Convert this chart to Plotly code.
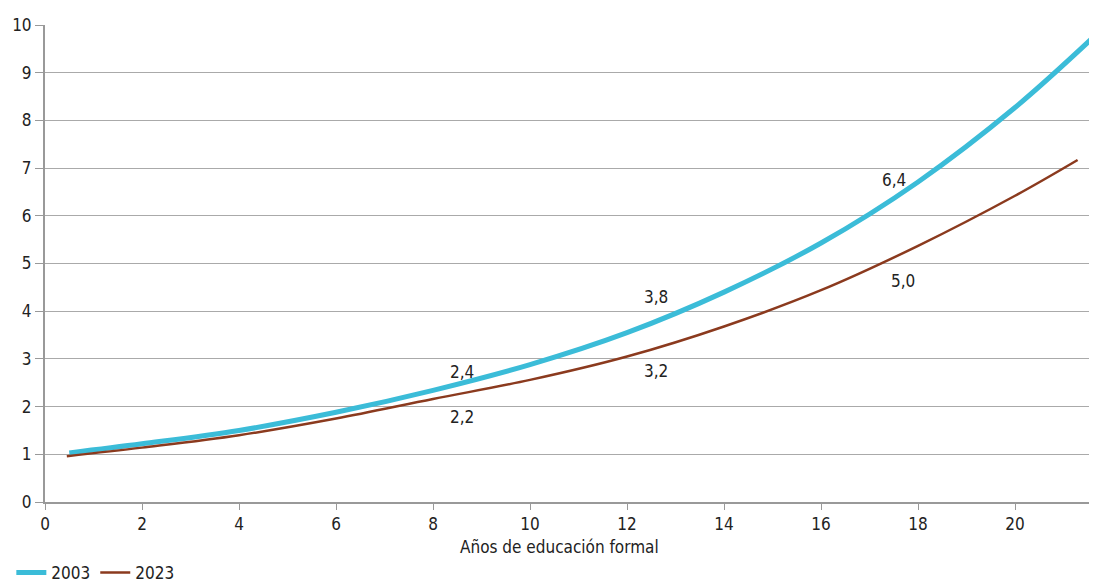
import plotly.graph_objects as go

x_2003 = [0.5, 2, 4, 6, 8, 10, 12, 14, 16, 18, 20, 21.6]
y_2003 = [1.03, 1.22, 1.50, 1.88, 2.34, 2.88, 3.55, 4.40, 5.43, 6.71, 8.27, 9.73]
x_2023 = [0.45, 2, 4, 6, 8, 10, 12, 14, 16, 18, 20, 21.29]
y_2023 = [0.96, 1.14, 1.40, 1.75, 2.16, 2.56, 3.05, 3.68, 4.44, 5.37, 6.42, 7.17]

labels_2003 = ["2,4", "3,8", "6,4"]
lx_2003 = [8.6, 12.6, 17.5]
ly_2003 = [2.73, 4.30, 6.75]
labels_2023 = ["2,2", "3,2", "5,0"]
lx_2023 = [8.6, 12.6, 17.7]
ly_2023 = [1.78, 2.75, 4.63]

FONT = "DejaVu Sans Condensed, Liberation Sans Narrow, Arial Narrow, sans-serif"
FS = 17

fig = go.Figure()
fig.add_trace(go.Scatter(x=x_2003, y=y_2003, mode="lines", name="2003",
                         line=dict(color="#3bbcd8", width=5, shape="spline", smoothing=1.0)))
fig.add_trace(go.Scatter(x=x_2023, y=y_2023, mode="lines", name="2023",
                         line=dict(color="#8b3a1e", width=2.5, shape="spline", smoothing=1.0)))

for t, xx, yy in zip(labels_2003 + labels_2023, lx_2003 + lx_2023, ly_2003 + ly_2023):
    fig.add_annotation(x=xx, y=yy, text=t, showarrow=False,
                       font=dict(family=FONT, size=FS, color="#222"))

fig.add_annotation(x=0.489, xref="paper", y=-0.07, yref="paper", yanchor="top",
                   text="Años de educación formal", showarrow=False,
                   font=dict(family=FONT, size=FS, color="#222"))

fig.update_layout(
    width=1089, height=575,
    margin=dict(l=37, r=0, t=17, b=81, autoexpand=False),
    plot_bgcolor="white", paper_bgcolor="white",
    font=dict(family=FONT, size=FS, color="#222"),
    showlegend=True,
    legend=dict(orientation="h", x=-0.032, xanchor="left", y=-0.149, yanchor="middle",
                font=dict(family=FONT, size=FS, color="#222"),
                itemwidth=30, tracegroupgap=0),
    xaxis=dict(range=[0, 21.69], tickvals=list(range(0, 22, 2)), automargin=False,
               showgrid=False, zeroline=False, showline=True, linecolor="#999",
               linewidth=2, ticks="outside", ticklen=6, tickcolor="#999", tickwidth=1,
               tickfont=dict(family=FONT, size=FS, color="#222")),
    yaxis=dict(range=[0, 10], tickvals=list(range(0, 11)), automargin=False,
               showgrid=True, gridcolor="#aaa", gridwidth=1, zeroline=False,
               showline=True, linecolor="#999", linewidth=2,
               ticks="outside", ticklen=8, tickcolor="#999", tickwidth=1,
               tickfont=dict(family=FONT, size=FS, color="#222")),
)

fig.write_html("out.html")
